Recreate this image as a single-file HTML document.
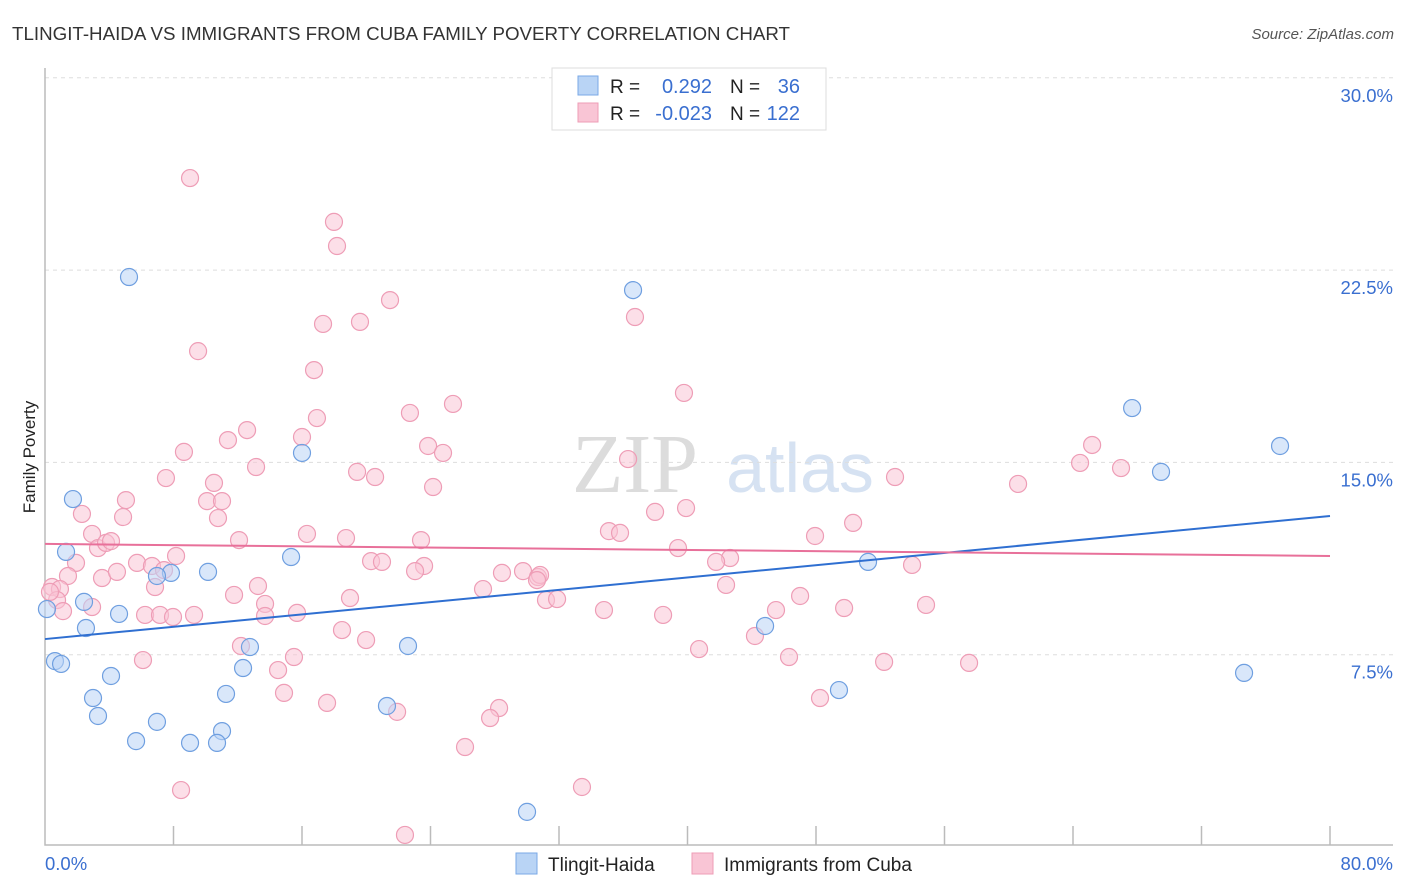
<!DOCTYPE html>
<html><head><meta charset="utf-8"><style>
body{margin:0;background:#fff;font-family:"Liberation Sans",sans-serif;}
svg{display:block}
</style></head><body>
<svg id="chart" width="1406" height="892" xmlns="http://www.w3.org/2000/svg">
<text x="12" y="40" font-size="18" fill="#333" textLength="778" lengthAdjust="spacingAndGlyphs">TLINGIT-HAIDA VS IMMIGRANTS FROM CUBA FAMILY POVERTY CORRELATION CHART</text>
<text x="1394" y="39" font-size="15" fill="#555" font-style="italic" text-anchor="end">Source: ZipAtlas.com</text>
<text x="35" y="457" font-size="17" fill="#222" text-anchor="middle" transform="rotate(-90 35 457)">Family Poverty</text>
<text x="635" y="492" font-size="84" fill="#dcdcdc" font-family="Liberation Serif,serif" text-anchor="middle">ZIP</text>
<text x="800" y="492" font-size="70" fill="#d6e2f2" text-anchor="middle">atlas</text>
<g id="grid"></g><g id="axes"></g><g id="pts"></g><g id="lines"></g>
<g>
<rect x="552" y="68" width="274" height="62" fill="#fff" stroke="#ddd"/>
<rect x="578" y="76" width="20" height="19" fill="#b9d4f5" stroke="#7aa8e6"/>
<rect x="578" y="103" width="20" height="19" fill="#f9c5d5" stroke="#ee9db6"/>
<text x="610" y="93" font-size="19" fill="#222">R =</text>
<text x="712" y="93" font-size="20" fill="#3a6fd0" text-anchor="end">0.292</text>
<text x="730" y="93" font-size="19" fill="#222">N =</text>
<text x="800" y="93" font-size="20" fill="#3a6fd0" text-anchor="end">36</text>
<text x="610" y="120" font-size="19" fill="#222">R =</text>
<text x="712" y="120" font-size="20" fill="#3a6fd0" text-anchor="end">-0.023</text>
<text x="730" y="120" font-size="19" fill="#222">N =</text>
<text x="800" y="120" font-size="20" fill="#3a6fd0" text-anchor="end">122</text>
</g>
<g>
<rect x="516" y="853" width="21" height="21" fill="#b9d4f5" stroke="#7aa8e6"/>
<text x="548" y="871" font-size="19" fill="#222">Tlingit-Haida</text>
<rect x="692" y="853" width="21" height="21" fill="#f9c5d5" stroke="#ee9db6"/>
<text x="724" y="871" font-size="19" fill="#222">Immigrants from Cuba</text>
</g>
</svg>
<script>
const blueX=[5.23,36.61,67.68,76.89,69.48,16.0,1.74,1.31,15.32,7.84,10.15,6.97,2.43,0.12,4.61,2.55,51.24,44.83,12.76,22.6,0.62,1.0,4.11,12.33,74.65,2.99,11.27,49.43,3.3,21.29,6.97,11.02,5.67,9.03,10.71,30.01];
const blueY=[22.23,21.72,17.12,15.64,14.63,15.37,13.57,11.51,11.31,10.69,10.73,10.57,9.56,9.28,9.09,8.54,11.12,8.62,7.8,7.84,7.25,7.14,6.67,6.98,6.79,5.81,5.97,6.12,5.11,5.5,4.88,4.52,4.13,4.06,4.06,1.37];
const pinkX=[9.03,17.99,18.18,21.48,17.31,19.61,36.73,9.53,16.75,39.78,25.4,22.72,16.93,12.58,11.39,16.0,23.85,24.78,8.65,65.19,13.14,19.43,20.55,7.53,36.3,64.44,66.99,52.92,60.58,10.52,24.16,5.04,10.09,11.02,2.3,4.86,10.77,37.98,39.91,50.31,2.93,16.31,35.11,35.8,12.08,18.74,23.41,47.94,3.3,3.8,4.11,39.41,8.16,5.73,6.66,1.93,1.43,42.65,41.78,53.98,20.3,20.98,23.6,23.04,3.55,4.48,28.45,29.76,30.69,30.82,7.41,0.44,0.93,0.75,6.85,13.26,11.77,27.27,42.4,18.99,31.19,31.88,47.01,13.7,2.93,1.12,6.23,7.16,7.97,9.28,15.69,13.7,34.8,45.51,49.75,54.85,38.48,18.49,12.2,19.99,44.2,40.72,15.5,14.51,6.1,46.32,52.24,57.53,14.88,17.56,21.92,28.27,27.71,48.25,26.15,8.47,33.43,22.41,30.63,0.31];
const pinkY=[26.09,24.38,23.44,21.33,20.4,20.48,20.67,19.34,18.6,17.71,17.28,16.93,16.73,16.26,15.87,15.99,15.64,15.37,15.41,15.68,14.82,14.63,14.43,14.39,15.13,14.98,14.78,14.43,14.16,14.2,14.04,13.53,13.49,13.49,12.99,12.87,12.83,13.07,13.22,12.64,12.21,12.21,12.32,12.25,11.97,12.05,11.97,12.13,11.66,11.86,11.93,11.66,11.35,11.08,10.96,11.08,10.57,11.27,11.12,11.0,11.15,11.12,10.96,10.76,10.49,10.73,10.69,10.76,10.53,10.61,10.8,10.14,10.06,9.63,10.14,10.18,9.83,10.06,10.22,9.71,9.63,9.67,9.79,9.48,9.36,9.2,9.05,9.05,8.97,9.05,9.13,9.01,9.24,9.24,9.32,9.44,9.05,8.46,7.84,8.07,8.23,7.72,7.41,6.9,7.29,7.41,7.22,7.18,6.01,5.62,5.27,5.42,5.03,5.81,3.9,2.22,2.34,0.47,10.41,9.95];
const blueTrend=[8.11,12.91];
const pinkTrend=[11.82,11.35];
const yTicks=[7.5,15,22.5,30];
const xTickLabels=["0.0%","80.0%"];
const NS="http://www.w3.org/2000/svg";
const X=v=>45+v/80*1285;
const Y=v=>847-v/7.5*192.3;
function mk(tag,attrs,parent){const e=document.createElementNS(NS,tag);for(const k in attrs)e.setAttribute(k,attrs[k]);parent.appendChild(e);return e;}
const grid=document.getElementById('grid'),axes=document.getElementById('axes'),pts=document.getElementById('pts'),lines=document.getElementById('lines');
yTicks.forEach(t=>{
 const l=mk('line',{x1:45,x2:1393,y1:Y(t),y2:Y(t),stroke:'#ddd','stroke-dasharray':'4,4'},grid);
 
 
 const tx=mk('text',{x:1393,y:Y(t)+24,'font-size':18.5,fill:'#3a6fd0','text-anchor':'end'},grid);
 tx.textContent=t.toFixed(1)+'%';
 
 
});
const ax=mk('path',{d:'M45,68 V845 H1393',fill:'none',stroke:'#bbb','stroke-width':1.5},axes);


for(let i=1;i<=10;i++){
 const t=mk('line',{x1:X(i*8),x2:X(i*8),y1:826,y2:845,stroke:'#bbb','stroke-width':1.5},axes);
 
 
}
[[0,'start',45],[80,'end',1393]].forEach((a,i)=>{
 const tx=mk('text',{x:a[2],y:870,'font-size':18.5,fill:'#3a6fd0','text-anchor':a[1]},axes);
 tx.textContent=xTickLabels[i];
 
 
});
function dots(xs,ys,fill,stroke,name){
 xs.forEach((v,i)=>{
  const c=mk('circle',{cx:X(v),cy:Y(ys[i]),r:8.5,fill:fill,'fill-opacity':0.55,stroke:stroke,'stroke-width':1.2},pts);
  
  
 });
}
dots(pinkX,pinkY,'#f9c5d5','#ee9db6','cuba-point');
dots(blueX,blueY,'#b9d4f5','#6f9fe0','tlingit-point');
const bl=mk('line',{x1:X(0),y1:Y(blueTrend[0]),x2:X(80),y2:Y(blueTrend[1]),stroke:'#2f6fd1','stroke-width':2},lines);


const pl=mk('line',{x1:X(0),y1:Y(pinkTrend[0]),x2:X(80),y2:Y(pinkTrend[1]),stroke:'#e8709a','stroke-width':2},lines);


</script>
</body></html>
